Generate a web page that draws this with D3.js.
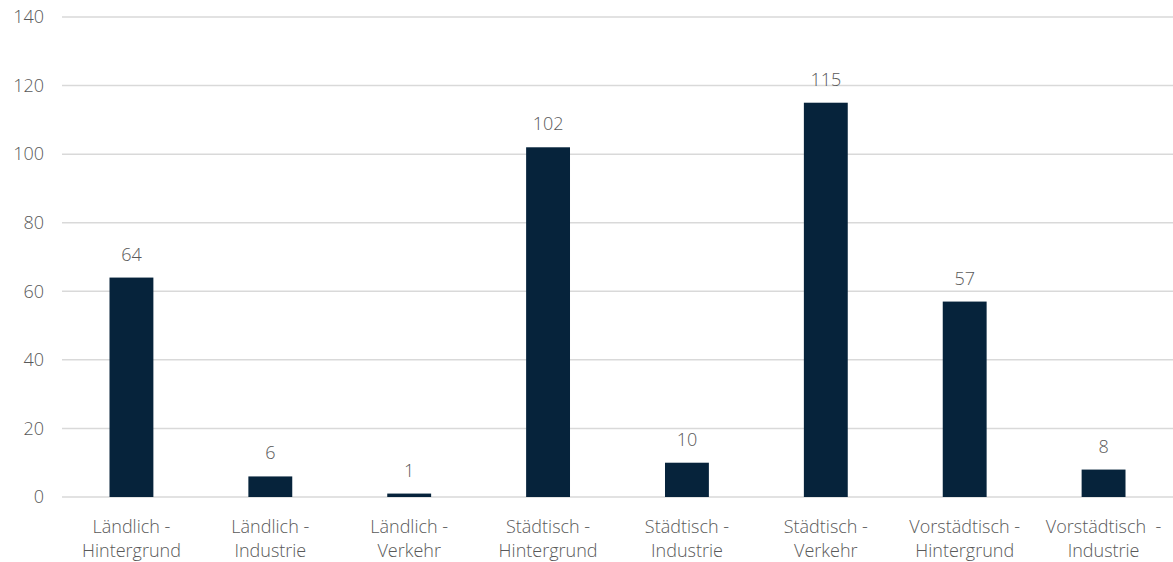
<!DOCTYPE html>
<html>
<head>
<meta charset="utf-8">
<script src="https://cdn.jsdelivr.net/npm/d3@7"></script>
<style>
  html, body { margin: 0; padding: 0; background: #ffffff; }
  svg { display: block; }
  text { font-family: "Open Sans", "Noto Sans", sans-serif; font-weight: 300; fill: #595959; }
</style>
</head>
<body>
<svg id="chart" width="1173" height="562"></svg>
<script>
// Station categories (two-line labels) and their counts
const categories = [
  ["Ländlich -", "Hintergrund"],
  ["Ländlich -", "Industrie"],
  ["Ländlich -", "Verkehr"],
  ["Städtisch -", "Hintergrund"],
  ["Städtisch -", "Industrie"],
  ["Städtisch -", "Verkehr"],
  ["Vorstädtisch -", "Hintergrund"],
  ["Vorstädtisch  -", "Industrie"]
];
const values = [64, 6, 1, 102, 10, 115, 57, 8];
const yTicks = [0, 20, 40, 60, 80, 100, 120, 140];

const width = 1173, height = 562;
const margin = { top: 17, right: 0, bottom: 65, left: 62 };

const svg = d3.select("#chart");

const x = d3.scaleBand()
  .domain(d3.range(categories.length))
  .range([margin.left, width - margin.right])
  .paddingInner(0.684)
  .paddingOuter(0.342);

const y = d3.scaleLinear()
  .domain([0, 140])
  .range([height - margin.bottom, margin.top]);

// Horizontal gridlines
svg.append("g")
  .selectAll("line")
  .data(yTicks)
  .join("line")
  .attr("x1", margin.left)
  .attr("x2", width - margin.right)
  .attr("y1", d => y(d))
  .attr("y2", d => y(d))
  .attr("stroke", "#d9d9d9")
  .attr("stroke-width", 1.5);

// Y axis tick labels
svg.append("g")
  .selectAll("text")
  .data(yTicks)
  .join("text")
  .attr("x", 44)
  .attr("y", d => y(d))
  .attr("dy", "0.35em")
  .attr("text-anchor", "end")
  .style("font-size", "18px")
  .text(d => d);

// Bars
svg.append("g")
  .selectAll("rect")
  .data(values)
  .join("rect")
  .attr("x", (d, i) => x(i))
  .attr("y", d => y(d))
  .attr("width", x.bandwidth())
  .attr("height", d => y(0) - y(d))
  .attr("fill", "#06233b");

// Value labels above bars
svg.append("g")
  .selectAll("text")
  .data(values)
  .join("text")
  .attr("x", (d, i) => x(i) + x.bandwidth() / 2)
  .attr("y", d => y(d) - 17)
  .attr("text-anchor", "middle")
  .style("font-size", "18px")
  .text(d => d);

// Category labels, two lines each
const cat = svg.append("g")
  .selectAll("text")
  .data(categories)
  .join("text")
  .attr("text-anchor", "middle")
  .style("font-size", "18px")
  .style("white-space", "pre")
  .attr("xml:space", "preserve");

cat.selectAll("tspan")
  .data((d, i) => d.map(s => ({ s, i })))
  .join("tspan")
  .attr("x", d => x(d.i) + x.bandwidth() / 2)
  .attr("y", (d, j) => 533 + j * 24)
  .text(d => d.s);
</script>
</body>
</html>
